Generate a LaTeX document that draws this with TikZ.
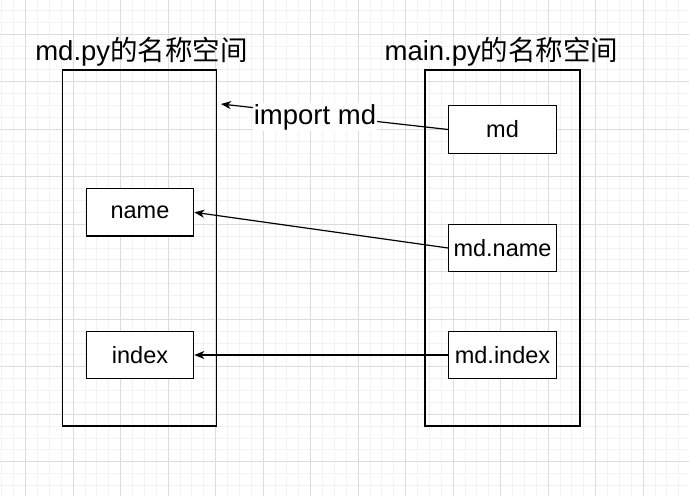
\documentclass[tikz,border=0pt]{standalone}
\usepackage{fontspec}
\setmainfont{Liberation Sans}
\newfontfamily\cjk{Noto Sans CJK SC}
\usetikzlibrary{arrows.meta}
\definecolor{gridminor}{HTML}{F2F2F2}
\definecolor{gridmajor}{HTML}{DCDCDC}
\tikzset{
  minorline/.style={draw=gridminor,line width=1pt},
  majorline/.style={draw=gridmajor,line width=1pt},
  bigbox/.style={draw=black,line width=1.2pt,minimum width=154pt,minimum height=356pt,inner sep=0pt},
  smallbox/.style={draw=black,fill=white,line width=1.2pt,minimum width=107.5pt,minimum height=47.5pt,inner sep=0pt,font=\fontsize{23.5}{27}\selectfont},
  titletext/.style={inner sep=0pt,font=\fontsize{27.5}{31}\selectfont},
  lbl/.style={fill=white,inner sep=1pt,font=\fontsize{27.5}{31}\selectfont},
  arr/.style={line width=1.2pt,-{Stealth[length=10pt,width=8pt,inset=3pt]}}
}
\begin{document}
\begin{tikzpicture}[x=1pt,y=-1pt]
\useasboundingbox (0,0) rectangle (689,496);
\fill[white] (0,0) rectangle (689,496);
% grid
\foreach \i in {0,...,58} { \draw[minorline] ({1.95+\i*11.875},0) -- ++(0,496); }
\foreach \i in {0,...,41} { \draw[minorline] (0,{10.55+\i*11.875}) -- ++(689,0); }
\foreach \i in {0,...,13} { \draw[majorline] ({25.7+\i*47.5},0) -- ++(0,496); }
\foreach \i in {0,...,9} { \draw[majorline] (0,{34.3+\i*47.5}) -- ++(689,0); }
% titles
\node[titletext] (t1) at (141.5,52) {md.py{\cjk 的名称空间}};
\node[titletext] (t2) at (501.5,52) {main.py{\cjk 的名称空间}};
% big boxes
\node[bigbox] (L) at (139.85,248) {};
\node[bigbox,minimum width=155pt] (R) at (502.5,248) {};
% small boxes
\node[smallbox] (md) at (502.5,129.5) {md};
\node[smallbox] (mdname) at (502.5,248) {md.name};
\node[smallbox] (mdindex) at (502.5,355) {md.index};
\node[smallbox] (name) at (140,212.3) {name};
\node[smallbox] (index) at (140,355) {index};
% connectors
\coordinate (impend) at (221,104);
\draw[arr] (md.west) -- (impend);
\node[lbl] (implbl) at (315,117) {import md};
\draw[arr] (mdname.west) -- (name.east);
\draw[arr] (mdindex.west) -- (index.east);
\end{tikzpicture}
\end{document}
